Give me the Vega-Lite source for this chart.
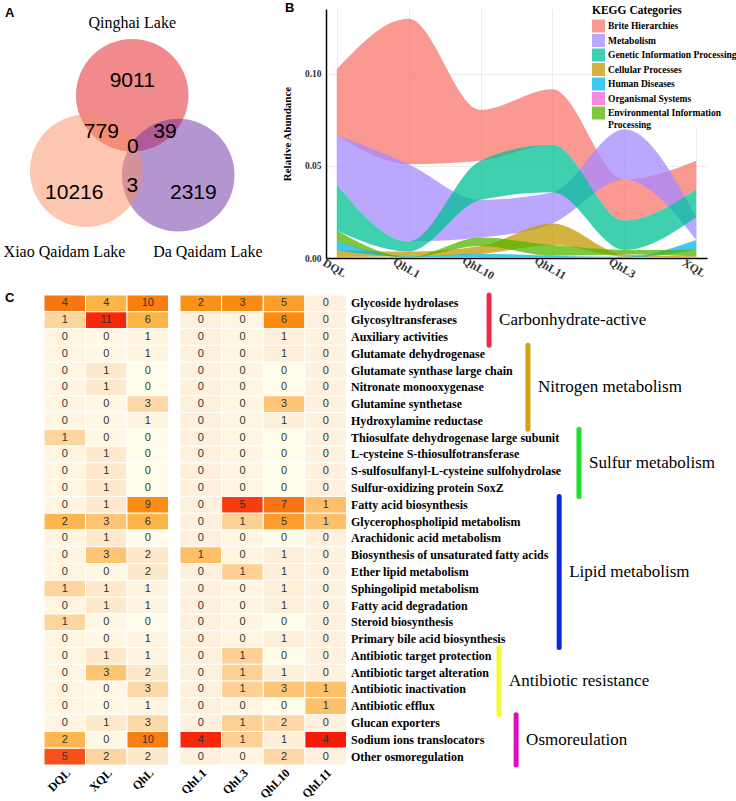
{
"$schema": "https://vega.github.io/schema/vega-lite/v6.json",
"background": "white",
"padding": {"left": 3, "top": 2, "right": 0, "bottom": 0},
"config": {"view": {"stroke": null}, "title": {"font": "Liberation Sans", "fontWeight": "bold", "fontSize": 13, "color": "black", "anchor": "start", "frame": "group", "offset": 0, "baseline": "top"}},
"datasets": {
"venn": [
{"set": "Qinghai Lake", "x": 0, "y": 0.82},
{"set": "Da Qaidam Lake", "x": 0.73, "y": -0.45},
{"set": "Xiao Qaidam Lake", "x": -0.73, "y": -0.38}
],
"vennSets": [
{"set": "Qinghai Lake", "x": 0, "y": 1.97},
{"set": "Xiao Qaidam Lake", "x": -1.075, "y": -1.67},
{"set": "Da Qaidam Lake", "x": 1.2, "y": -1.67}
],
"vennCounts": [
{"region": "Qinghai only", "count": 9011, "x": 0, "y": 1.04},
{"region": "Qinghai & Xiao", "count": 779, "x": -0.49, "y": 0.235},
{"region": "Qinghai & Da", "count": 39, "x": 0.52, "y": 0.235},
{"region": "All three", "count": 0, "x": 0.01, "y": -0.01},
{"region": "Xiao & Da", "count": 3, "x": 0, "y": -0.62},
{"region": "Xiao only", "count": 10216, "x": -0.92, "y": -0.74},
{"region": "Da only", "count": 2319, "x": 0.97, "y": -0.74}
],
"kegg": [
{"sample": "DQL", "cat": "Brite Hierarchies", "value": 0.0358},
{"sample": "DQL", "cat": "Metabolism", "value": 0.0269},
{"sample": "DQL", "cat": "Genetic Information Processing", "value": 0.025},
{"sample": "DQL", "cat": "Cellular Processes", "value": 0.0037},
{"sample": "DQL", "cat": "Human Diseases", "value": 0.0049},
{"sample": "DQL", "cat": "Organismal Systems", "value": 0.0005},
{"sample": "DQL", "cat": "Environmental Information Processing", "value": 0.0058},
{"sample": "QhL1", "cat": "Brite Hierarchies", "value": 0.079},
{"sample": "QhL1", "cat": "Metabolism", "value": 0.042},
{"sample": "QhL1", "cat": "Genetic Information Processing", "value": 0.0055},
{"sample": "QhL1", "cat": "Cellular Processes", "value": 0.0025},
{"sample": "QhL1", "cat": "Human Diseases", "value": 0.0005},
{"sample": "QhL1", "cat": "Organismal Systems", "value": 0.0002},
{"sample": "QhL1", "cat": "Environmental Information Processing", "value": 0.0003},
{"sample": "QhL10", "cat": "Brite Hierarchies", "value": 0.0276},
{"sample": "QhL10", "cat": "Metabolism", "value": 0.0205},
{"sample": "QhL10", "cat": "Genetic Information Processing", "value": 0.0213},
{"sample": "QhL10", "cat": "Cellular Processes", "value": 0.0042},
{"sample": "QhL10", "cat": "Human Diseases", "value": 0.002},
{"sample": "QhL10", "cat": "Organismal Systems", "value": 0.0003},
{"sample": "QhL10", "cat": "Environmental Information Processing", "value": 0.0046},
{"sample": "QhL11", "cat": "Brite Hierarchies", "value": 0.0302},
{"sample": "QhL11", "cat": "Metabolism", "value": 0.0169},
{"sample": "QhL11", "cat": "Genetic Information Processing", "value": 0.0258},
{"sample": "QhL11", "cat": "Cellular Processes", "value": 0.0118},
{"sample": "QhL11", "cat": "Human Diseases", "value": 0.001},
{"sample": "QhL11", "cat": "Organismal Systems", "value": 0.0002},
{"sample": "QhL11", "cat": "Environmental Information Processing", "value": 0.0058},
{"sample": "QhL3", "cat": "Brite Hierarchies", "value": 0.0222},
{"sample": "QhL3", "cat": "Metabolism", "value": 0.0273},
{"sample": "QhL3", "cat": "Genetic Information Processing", "value": 0.016},
{"sample": "QhL3", "cat": "Cellular Processes", "value": 0.0012},
{"sample": "QhL3", "cat": "Human Diseases", "value": 0.0005},
{"sample": "QhL3", "cat": "Organismal Systems", "value": 0.0002},
{"sample": "QhL3", "cat": "Environmental Information Processing", "value": 0.0025},
{"sample": "XQL", "cat": "Brite Hierarchies", "value": 0.0155},
{"sample": "XQL", "cat": "Metabolism", "value": 0.0124},
{"sample": "XQL", "cat": "Genetic Information Processing", "value": 0.0151},
{"sample": "XQL", "cat": "Cellular Processes", "value": 0.0006},
{"sample": "XQL", "cat": "Human Diseases", "value": 0.0053},
{"sample": "XQL", "cat": "Organismal Systems", "value": 0.0003},
{"sample": "XQL", "cat": "Environmental Information Processing", "value": 0.0036}
],
"cells": [
{"g": "Glycoside hydrolases", "s": "DQL", "n": 4, "z": 2.7},
{"g": "Glycoside hydrolases", "s": "XQL", "n": 4, "z": 1.22},
{"g": "Glycoside hydrolases", "s": "QhL", "n": 10, "z": 2.52},
{"g": "Glycoside hydrolases", "s": "QhL1", "n": 2, "z": 2.07},
{"g": "Glycoside hydrolases", "s": "QhL3", "n": 3, "z": 2.23},
{"g": "Glycoside hydrolases", "s": "QhL10", "n": 5, "z": 1.76},
{"g": "Glycoside hydrolases", "s": "QhL11", "n": 0, "z": -0.35},
{"g": "Glycosyltransferases", "s": "DQL", "n": 1, "z": 0.31},
{"g": "Glycosyltransferases", "s": "XQL", "n": 11, "z": 4.41},
{"g": "Glycosyltransferases", "s": "QhL", "n": 6, "z": 1.2},
{"g": "Glycosyltransferases", "s": "QhL1", "n": 0, "z": -0.3},
{"g": "Glycosyltransferases", "s": "QhL3", "n": 0, "z": -0.48},
{"g": "Glycosyltransferases", "s": "QhL10", "n": 6, "z": 2.26},
{"g": "Glycosyltransferases", "s": "QhL11", "n": 0, "z": -0.35},
{"g": "Auxiliary activities", "s": "DQL", "n": 0, "z": -0.48},
{"g": "Auxiliary activities", "s": "XQL", "n": 0, "z": -0.6},
{"g": "Auxiliary activities", "s": "QhL", "n": 1, "z": -0.45},
{"g": "Auxiliary activities", "s": "QhL1", "n": 0, "z": -0.3},
{"g": "Auxiliary activities", "s": "QhL3", "n": 0, "z": -0.48},
{"g": "Auxiliary activities", "s": "QhL10", "n": 1, "z": -0.27},
{"g": "Auxiliary activities", "s": "QhL11", "n": 0, "z": -0.35},
{"g": "Glutamate dehydrogenase", "s": "DQL", "n": 0, "z": -0.48},
{"g": "Glutamate dehydrogenase", "s": "XQL", "n": 0, "z": -0.6},
{"g": "Glutamate dehydrogenase", "s": "QhL", "n": 1, "z": -0.45},
{"g": "Glutamate dehydrogenase", "s": "QhL1", "n": 0, "z": -0.3},
{"g": "Glutamate dehydrogenase", "s": "QhL3", "n": 0, "z": -0.48},
{"g": "Glutamate dehydrogenase", "s": "QhL10", "n": 1, "z": -0.27},
{"g": "Glutamate dehydrogenase", "s": "QhL11", "n": 0, "z": -0.35},
{"g": "Glutamate synthase large chain", "s": "DQL", "n": 0, "z": -0.48},
{"g": "Glutamate synthase large chain", "s": "XQL", "n": 1, "z": -0.15},
{"g": "Glutamate synthase large chain", "s": "QhL", "n": 0, "z": -0.78},
{"g": "Glutamate synthase large chain", "s": "QhL1", "n": 0, "z": -0.3},
{"g": "Glutamate synthase large chain", "s": "QhL3", "n": 0, "z": -0.48},
{"g": "Glutamate synthase large chain", "s": "QhL10", "n": 0, "z": -0.78},
{"g": "Glutamate synthase large chain", "s": "QhL11", "n": 0, "z": -0.35},
{"g": "Nitronate monooxygenase", "s": "DQL", "n": 0, "z": -0.48},
{"g": "Nitronate monooxygenase", "s": "XQL", "n": 1, "z": -0.15},
{"g": "Nitronate monooxygenase", "s": "QhL", "n": 0, "z": -0.78},
{"g": "Nitronate monooxygenase", "s": "QhL1", "n": 0, "z": -0.3},
{"g": "Nitronate monooxygenase", "s": "QhL3", "n": 0, "z": -0.48},
{"g": "Nitronate monooxygenase", "s": "QhL10", "n": 0, "z": -0.78},
{"g": "Nitronate monooxygenase", "s": "QhL11", "n": 0, "z": -0.35},
{"g": "Glutamine synthetase", "s": "DQL", "n": 0, "z": -0.48},
{"g": "Glutamine synthetase", "s": "XQL", "n": 0, "z": -0.6},
{"g": "Glutamine synthetase", "s": "QhL", "n": 3, "z": 0.21},
{"g": "Glutamine synthetase", "s": "QhL1", "n": 0, "z": -0.3},
{"g": "Glutamine synthetase", "s": "QhL3", "n": 0, "z": -0.48},
{"g": "Glutamine synthetase", "s": "QhL10", "n": 3, "z": 0.74},
{"g": "Glutamine synthetase", "s": "QhL11", "n": 0, "z": -0.35},
{"g": "Hydroxylamine reductase", "s": "DQL", "n": 0, "z": -0.48},
{"g": "Hydroxylamine reductase", "s": "XQL", "n": 0, "z": -0.6},
{"g": "Hydroxylamine reductase", "s": "QhL", "n": 1, "z": -0.45},
{"g": "Hydroxylamine reductase", "s": "QhL1", "n": 0, "z": -0.3},
{"g": "Hydroxylamine reductase", "s": "QhL3", "n": 0, "z": -0.48},
{"g": "Hydroxylamine reductase", "s": "QhL10", "n": 1, "z": -0.27},
{"g": "Hydroxylamine reductase", "s": "QhL11", "n": 0, "z": -0.35},
{"g": "Thiosulfate dehydrogenase large subunit", "s": "DQL", "n": 1, "z": 0.31},
{"g": "Thiosulfate dehydrogenase large subunit", "s": "XQL", "n": 0, "z": -0.6},
{"g": "Thiosulfate dehydrogenase large subunit", "s": "QhL", "n": 0, "z": -0.78},
{"g": "Thiosulfate dehydrogenase large subunit", "s": "QhL1", "n": 0, "z": -0.3},
{"g": "Thiosulfate dehydrogenase large subunit", "s": "QhL3", "n": 0, "z": -0.48},
{"g": "Thiosulfate dehydrogenase large subunit", "s": "QhL10", "n": 0, "z": -0.78},
{"g": "Thiosulfate dehydrogenase large subunit", "s": "QhL11", "n": 0, "z": -0.35},
{"g": "L-cysteine S-thiosulfotransferase", "s": "DQL", "n": 0, "z": -0.48},
{"g": "L-cysteine S-thiosulfotransferase", "s": "XQL", "n": 1, "z": -0.15},
{"g": "L-cysteine S-thiosulfotransferase", "s": "QhL", "n": 0, "z": -0.78},
{"g": "L-cysteine S-thiosulfotransferase", "s": "QhL1", "n": 0, "z": -0.3},
{"g": "L-cysteine S-thiosulfotransferase", "s": "QhL3", "n": 0, "z": -0.48},
{"g": "L-cysteine S-thiosulfotransferase", "s": "QhL10", "n": 0, "z": -0.78},
{"g": "L-cysteine S-thiosulfotransferase", "s": "QhL11", "n": 0, "z": -0.35},
{"g": "S-sulfosulfanyl-L-cysteine sulfohydrolase", "s": "DQL", "n": 0, "z": -0.48},
{"g": "S-sulfosulfanyl-L-cysteine sulfohydrolase", "s": "XQL", "n": 1, "z": -0.15},
{"g": "S-sulfosulfanyl-L-cysteine sulfohydrolase", "s": "QhL", "n": 0, "z": -0.78},
{"g": "S-sulfosulfanyl-L-cysteine sulfohydrolase", "s": "QhL1", "n": 0, "z": -0.3},
{"g": "S-sulfosulfanyl-L-cysteine sulfohydrolase", "s": "QhL3", "n": 0, "z": -0.48},
{"g": "S-sulfosulfanyl-L-cysteine sulfohydrolase", "s": "QhL10", "n": 0, "z": -0.78},
{"g": "S-sulfosulfanyl-L-cysteine sulfohydrolase", "s": "QhL11", "n": 0, "z": -0.35},
{"g": "Sulfur-oxidizing protein SoxZ", "s": "DQL", "n": 0, "z": -0.48},
{"g": "Sulfur-oxidizing protein SoxZ", "s": "XQL", "n": 1, "z": -0.15},
{"g": "Sulfur-oxidizing protein SoxZ", "s": "QhL", "n": 0, "z": -0.78},
{"g": "Sulfur-oxidizing protein SoxZ", "s": "QhL1", "n": 0, "z": -0.3},
{"g": "Sulfur-oxidizing protein SoxZ", "s": "QhL3", "n": 0, "z": -0.48},
{"g": "Sulfur-oxidizing protein SoxZ", "s": "QhL10", "n": 0, "z": -0.78},
{"g": "Sulfur-oxidizing protein SoxZ", "s": "QhL11", "n": 0, "z": -0.35},
{"g": "Fatty acid biosynthesis", "s": "DQL", "n": 0, "z": -0.48},
{"g": "Fatty acid biosynthesis", "s": "XQL", "n": 1, "z": -0.15},
{"g": "Fatty acid biosynthesis", "s": "QhL", "n": 9, "z": 2.19},
{"g": "Fatty acid biosynthesis", "s": "QhL1", "n": 0, "z": -0.3},
{"g": "Fatty acid biosynthesis", "s": "QhL3", "n": 5, "z": 4.04},
{"g": "Fatty acid biosynthesis", "s": "QhL10", "n": 7, "z": 2.77},
{"g": "Fatty acid biosynthesis", "s": "QhL11", "n": 1, "z": 0.88},
{"g": "Glycerophospholipid metabolism", "s": "DQL", "n": 2, "z": 1.11},
{"g": "Glycerophospholipid metabolism", "s": "XQL", "n": 3, "z": 0.77},
{"g": "Glycerophospholipid metabolism", "s": "QhL", "n": 6, "z": 1.2},
{"g": "Glycerophospholipid metabolism", "s": "QhL1", "n": 0, "z": -0.3},
{"g": "Glycerophospholipid metabolism", "s": "QhL3", "n": 1, "z": 0.42},
{"g": "Glycerophospholipid metabolism", "s": "QhL10", "n": 5, "z": 1.76},
{"g": "Glycerophospholipid metabolism", "s": "QhL11", "n": 1, "z": 0.88},
{"g": "Arachidonic acid metabolism", "s": "DQL", "n": 0, "z": -0.48},
{"g": "Arachidonic acid metabolism", "s": "XQL", "n": 1, "z": -0.15},
{"g": "Arachidonic acid metabolism", "s": "QhL", "n": 0, "z": -0.78},
{"g": "Arachidonic acid metabolism", "s": "QhL1", "n": 0, "z": -0.3},
{"g": "Arachidonic acid metabolism", "s": "QhL3", "n": 0, "z": -0.48},
{"g": "Arachidonic acid metabolism", "s": "QhL10", "n": 0, "z": -0.78},
{"g": "Arachidonic acid metabolism", "s": "QhL11", "n": 0, "z": -0.35},
{"g": "Biosynthesis of unsaturated fatty acids", "s": "DQL", "n": 0, "z": -0.48},
{"g": "Biosynthesis of unsaturated fatty acids", "s": "XQL", "n": 3, "z": 0.77},
{"g": "Biosynthesis of unsaturated fatty acids", "s": "QhL", "n": 2, "z": -0.12},
{"g": "Biosynthesis of unsaturated fatty acids", "s": "QhL1", "n": 1, "z": 0.89},
{"g": "Biosynthesis of unsaturated fatty acids", "s": "QhL3", "n": 0, "z": -0.48},
{"g": "Biosynthesis of unsaturated fatty acids", "s": "QhL10", "n": 1, "z": -0.27},
{"g": "Biosynthesis of unsaturated fatty acids", "s": "QhL11", "n": 0, "z": -0.35},
{"g": "Ether lipid metabolism", "s": "DQL", "n": 0, "z": -0.48},
{"g": "Ether lipid metabolism", "s": "XQL", "n": 0, "z": -0.6},
{"g": "Ether lipid metabolism", "s": "QhL", "n": 2, "z": -0.12},
{"g": "Ether lipid metabolism", "s": "QhL1", "n": 0, "z": -0.3},
{"g": "Ether lipid metabolism", "s": "QhL3", "n": 1, "z": 0.42},
{"g": "Ether lipid metabolism", "s": "QhL10", "n": 1, "z": -0.27},
{"g": "Ether lipid metabolism", "s": "QhL11", "n": 0, "z": -0.35},
{"g": "Sphingolipid metabolism", "s": "DQL", "n": 1, "z": 0.31},
{"g": "Sphingolipid metabolism", "s": "XQL", "n": 1, "z": -0.15},
{"g": "Sphingolipid metabolism", "s": "QhL", "n": 1, "z": -0.45},
{"g": "Sphingolipid metabolism", "s": "QhL1", "n": 0, "z": -0.3},
{"g": "Sphingolipid metabolism", "s": "QhL3", "n": 0, "z": -0.48},
{"g": "Sphingolipid metabolism", "s": "QhL10", "n": 1, "z": -0.27},
{"g": "Sphingolipid metabolism", "s": "QhL11", "n": 0, "z": -0.35},
{"g": "Fatty acid degradation", "s": "DQL", "n": 0, "z": -0.48},
{"g": "Fatty acid degradation", "s": "XQL", "n": 1, "z": -0.15},
{"g": "Fatty acid degradation", "s": "QhL", "n": 1, "z": -0.45},
{"g": "Fatty acid degradation", "s": "QhL1", "n": 0, "z": -0.3},
{"g": "Fatty acid degradation", "s": "QhL3", "n": 0, "z": -0.48},
{"g": "Fatty acid degradation", "s": "QhL10", "n": 1, "z": -0.27},
{"g": "Fatty acid degradation", "s": "QhL11", "n": 0, "z": -0.35},
{"g": "Steroid biosynthesis", "s": "DQL", "n": 1, "z": 0.31},
{"g": "Steroid biosynthesis", "s": "XQL", "n": 0, "z": -0.6},
{"g": "Steroid biosynthesis", "s": "QhL", "n": 0, "z": -0.78},
{"g": "Steroid biosynthesis", "s": "QhL1", "n": 0, "z": -0.3},
{"g": "Steroid biosynthesis", "s": "QhL3", "n": 0, "z": -0.48},
{"g": "Steroid biosynthesis", "s": "QhL10", "n": 0, "z": -0.78},
{"g": "Steroid biosynthesis", "s": "QhL11", "n": 0, "z": -0.35},
{"g": "Primary bile acid biosynthesis", "s": "DQL", "n": 0, "z": -0.48},
{"g": "Primary bile acid biosynthesis", "s": "XQL", "n": 0, "z": -0.6},
{"g": "Primary bile acid biosynthesis", "s": "QhL", "n": 1, "z": -0.45},
{"g": "Primary bile acid biosynthesis", "s": "QhL1", "n": 0, "z": -0.3},
{"g": "Primary bile acid biosynthesis", "s": "QhL3", "n": 0, "z": -0.48},
{"g": "Primary bile acid biosynthesis", "s": "QhL10", "n": 1, "z": -0.27},
{"g": "Primary bile acid biosynthesis", "s": "QhL11", "n": 0, "z": -0.35},
{"g": "Antibiotic target protection", "s": "DQL", "n": 0, "z": -0.48},
{"g": "Antibiotic target protection", "s": "XQL", "n": 1, "z": -0.15},
{"g": "Antibiotic target protection", "s": "QhL", "n": 1, "z": -0.45},
{"g": "Antibiotic target protection", "s": "QhL1", "n": 0, "z": -0.3},
{"g": "Antibiotic target protection", "s": "QhL3", "n": 1, "z": 0.42},
{"g": "Antibiotic target protection", "s": "QhL10", "n": 0, "z": -0.78},
{"g": "Antibiotic target protection", "s": "QhL11", "n": 0, "z": -0.35},
{"g": "Antibiotic target alteration", "s": "DQL", "n": 0, "z": -0.48},
{"g": "Antibiotic target alteration", "s": "XQL", "n": 3, "z": 0.77},
{"g": "Antibiotic target alteration", "s": "QhL", "n": 2, "z": -0.12},
{"g": "Antibiotic target alteration", "s": "QhL1", "n": 0, "z": -0.3},
{"g": "Antibiotic target alteration", "s": "QhL3", "n": 1, "z": 0.42},
{"g": "Antibiotic target alteration", "s": "QhL10", "n": 1, "z": -0.27},
{"g": "Antibiotic target alteration", "s": "QhL11", "n": 0, "z": -0.35},
{"g": "Antibiotic inactivation", "s": "DQL", "n": 0, "z": -0.48},
{"g": "Antibiotic inactivation", "s": "XQL", "n": 0, "z": -0.6},
{"g": "Antibiotic inactivation", "s": "QhL", "n": 3, "z": 0.21},
{"g": "Antibiotic inactivation", "s": "QhL1", "n": 0, "z": -0.3},
{"g": "Antibiotic inactivation", "s": "QhL3", "n": 1, "z": 0.42},
{"g": "Antibiotic inactivation", "s": "QhL10", "n": 3, "z": 0.74},
{"g": "Antibiotic inactivation", "s": "QhL11", "n": 1, "z": 0.88},
{"g": "Antibiotic efflux", "s": "DQL", "n": 0, "z": -0.48},
{"g": "Antibiotic efflux", "s": "XQL", "n": 0, "z": -0.6},
{"g": "Antibiotic efflux", "s": "QhL", "n": 1, "z": -0.45},
{"g": "Antibiotic efflux", "s": "QhL1", "n": 0, "z": -0.3},
{"g": "Antibiotic efflux", "s": "QhL3", "n": 0, "z": -0.48},
{"g": "Antibiotic efflux", "s": "QhL10", "n": 0, "z": -0.78},
{"g": "Antibiotic efflux", "s": "QhL11", "n": 1, "z": 0.88},
{"g": "Glucan exporters", "s": "DQL", "n": 0, "z": -0.48},
{"g": "Glucan exporters", "s": "XQL", "n": 1, "z": -0.15},
{"g": "Glucan exporters", "s": "QhL", "n": 3, "z": 0.21},
{"g": "Glucan exporters", "s": "QhL1", "n": 0, "z": -0.3},
{"g": "Glucan exporters", "s": "QhL3", "n": 1, "z": 0.42},
{"g": "Glucan exporters", "s": "QhL10", "n": 2, "z": 0.24},
{"g": "Glucan exporters", "s": "QhL11", "n": 0, "z": -0.35},
{"g": "Sodium ions translocators", "s": "DQL", "n": 2, "z": 1.11},
{"g": "Sodium ions translocators", "s": "XQL", "n": 0, "z": -0.6},
{"g": "Sodium ions translocators", "s": "QhL", "n": 10, "z": 2.52},
{"g": "Sodium ions translocators", "s": "QhL1", "n": 4, "z": 4.44},
{"g": "Sodium ions translocators", "s": "QhL3", "n": 1, "z": 0.42},
{"g": "Sodium ions translocators", "s": "QhL10", "n": 1, "z": -0.27},
{"g": "Sodium ions translocators", "s": "QhL11", "n": 4, "z": 4.59},
{"g": "Other osmoregulation", "s": "DQL", "n": 5, "z": 3.49},
{"g": "Other osmoregulation", "s": "XQL", "n": 2, "z": 0.31},
{"g": "Other osmoregulation", "s": "QhL", "n": 2, "z": -0.12},
{"g": "Other osmoregulation", "s": "QhL1", "n": 0, "z": -0.3},
{"g": "Other osmoregulation", "s": "QhL3", "n": 0, "z": -0.48},
{"g": "Other osmoregulation", "s": "QhL10", "n": 2, "z": 0.24},
{"g": "Other osmoregulation", "s": "QhL11", "n": 0, "z": -0.35}
],
"groups": [
{"cat": "Carbonhydrate-active", "lo": 0, "hi": 3, "bx": 34.4},
{"cat": "Nitrogen metabolism", "lo": 3, "hi": 8, "bx": 44.6},
{"cat": "Sulfur metabolism", "lo": 8, "hi": 12, "bx": 58.0},
{"cat": "Lipid metabolism", "lo": 12, "hi": 21, "bx": 52.8},
{"cat": "Antibiotic resistance", "lo": 21, "hi": 25, "bx": 37.0},
{"cat": "Osmoreulation", "lo": 25, "hi": 28, "bx": 41.5}
]
},
"vconcat": [
{
"hconcat": [
{
"width": 213, "height": 253,
"title": {"text": "A", "dx": -39, "dy": 15},
"encoding": {
"x": {"field": "x", "type": "quantitative", "scale": {"domain": [-1.4, 1.98], "nice": false, "zero": false}, "axis": null},
"y": {"field": "y", "type": "quantitative", "scale": {"domain": [-1.83, 2.19], "nice": false, "zero": false}, "axis": null}
},
"layer": [
{"data": {"name": "venn"}, "mark": {"type": "point", "shape": "circle", "filled": true, "size": 12670, "opacity": 0.5, "strokeWidth": 0},
"encoding": {"color": {"field": "set", "type": "nominal", "scale": {"domain": ["Qinghai Lake", "Da Qaidam Lake", "Xiao Qaidam Lake"], "range": ["#E11519", "#6B2BA1", "#F98D61"]}, "legend": null}}},
{"data": {"name": "vennSets"}, "mark": {"type": "text", "font": "Liberation Serif", "fontSize": 16, "color": "black", "baseline": "middle"},
"encoding": {"text": {"field": "set", "type": "nominal"}}},
{"data": {"name": "vennCounts"}, "mark": {"type": "text", "font": "Liberation Sans", "fontSize": 21, "color": "black", "baseline": "middle"},
"encoding": {"text": {"field": "count", "type": "quantitative", "format": "d"}}}
]
},
{
"width": 381, "height": 249,
"title": {"text": "B", "dx": -41, "dy": 14},
"data": {"name": "kegg"},
"transform": [{"stack": "value", "groupby": ["sample"], "sort": [{"field": "value", "order": "ascending"}], "as": ["v0", "v1"]}],
"mark": {"type": "area", "interpolate": "monotone", "opacity": 0.75},
"encoding": {
"x": {"field": "sample", "type": "ordinal", "sort": ["DQL", "QhL1", "QhL10", "QhL11", "QhL3", "XQL"], "scale": {"type": "point", "padding": 0.15},
"axis": {"title": null, "labelAngle": 30, "labelAlign": "center", "labelBaseline": "top", "labelFont": "Liberation Serif", "labelFontWeight": "bold", "labelFontSize": 11.5, "labelColor": "#333333", "ticks": false, "labelPadding": 5, "domainColor": "black", "domainWidth": 1.5, "grid": true, "gridColor": "#EBEBEB"}},
"y": {"field": "v1", "type": "quantitative", "scale": {"domain": [0, 0.1353], "nice": false},
"axis": {"title": "Relative Abundance", "titleFont": "Liberation Serif", "titleFontWeight": "bold", "titleFontSize": 11, "titleColor": "black", "titlePadding": 12, "values": [0, 0.05, 0.1], "format": ".2f", "labelFont": "Liberation Serif", "labelFontWeight": "bold", "labelFontSize": 9.5, "labelColor": "#333333", "ticks": false, "labelPadding": 5, "domainColor": "black", "domainWidth": 1.5, "gridColor": "#EBEBEB"}},
"y2": {"field": "v0"},
"color": {"field": "cat", "type": "nominal",
"scale": {"domain": ["Brite Hierarchies", "Metabolism", "Genetic Information Processing", "Cellular Processes", "Human Diseases", "Organismal Systems", "Environmental Information Processing"], "range": ["#F8766D", "#A58AFF", "#00C094", "#C49A00", "#00B6EB", "#FB61D7", "#53B400"]},
"legend": {"title": "KEGG Categories", "orient": "none", "legendX": 266, "legendY": -4, "fillColor": "white", "padding": 0, "titleFont": "Liberation Serif", "titleFontWeight": "bold", "titleFontSize": 11.5, "titleColor": "black", "titlePadding": 3, "labelFont": "Liberation Serif", "labelFontWeight": "bold", "labelFontSize": 9.5, "labelColor": "black", "labelOffset": 3, "labelLimit": 0, "symbolType": "square", "symbolSize": 169, "symbolStrokeWidth": 0, "rowPadding": 1.5,
"labelExpr": "datum.label == 'Environmental Information Processing' ? ['Environmental Information', 'Processing'] : datum.label"}}
}
}
],
"spacing": 69,
"bounds": "flush",
"resolve": {"scale": {"x": "independent", "y": "independent", "color": "independent"}}
},
{
"hconcat": [
{
"width": 124.5, "height": 470,
"title": {"text": "C", "dx": -39, "dy": 14},
"data": {"name": "cells"},
"transform": [{"filter": {"field": "s", "oneOf": ["DQL", "XQL", "QhL"]}}],
"encoding": {
"x": {"field": "s", "type": "nominal", "sort": ["DQL", "XQL", "QhL"], "scale": {"paddingInner": 0, "paddingOuter": 0},
"axis": {"title": null, "labelAngle": -45, "ticks": false, "domain": false, "labelFont": "Liberation Serif", "labelFontWeight": "bold", "labelFontSize": 12, "labelColor": "black", "labelPadding": 2}},
"y": {"field": "g", "type": "nominal", "sort": null, "scale": {"paddingInner": 0, "paddingOuter": 0}, "axis": null}
},
"layer": [
{"mark": {"type": "rect", "stroke": "white", "strokeWidth": 1},
"encoding": {"color": {"field": "z", "type": "quantitative", "scale": {"domain": [-0.78, -0.3, 0.3, 1.2, 2.2, 3.5, 4.6], "range": ["#FFFFFF", "#FEF0DC", "#FDD5A0", "#FDB447", "#FA8C12", "#F5501A", "#F61A08"]}, "legend": null}}},
{"mark": {"type": "text", "font": "Liberation Sans", "fontSize": 11, "color": "#333333"},
"encoding": {"text": {"field": "n", "type": "quantitative"}}}
]
},
{
"width": 166.5, "height": 470,
"data": {"name": "cells"},
"transform": [{"filter": {"field": "s", "oneOf": ["QhL1", "QhL3", "QhL10", "QhL11"]}}],
"encoding": {
"x": {"field": "s", "type": "nominal", "sort": ["QhL1", "QhL3", "QhL10", "QhL11"], "scale": {"paddingInner": 0, "paddingOuter": 0},
"axis": {"title": null, "labelAngle": -45, "ticks": false, "domain": false, "labelFont": "Liberation Serif", "labelFontWeight": "bold", "labelFontSize": 12, "labelColor": "black", "labelPadding": 2}},
"y": {"field": "g", "type": "nominal", "sort": null, "scale": {"paddingInner": 0, "paddingOuter": 0},
"axis": {"orient": "right", "title": null, "ticks": false, "domain": false, "labelFont": "Liberation Serif", "labelFontWeight": "bold", "labelFontSize": 12, "labelColor": "black", "labelPadding": 4, "labelLimit": 0}}
},
"layer": [
{"mark": {"type": "rect", "stroke": "white", "strokeWidth": 1},
"encoding": {"color": {"field": "z", "type": "quantitative", "scale": {"domain": [-0.78, -0.3, 0.3, 1.2, 2.2, 3.5, 4.6], "range": ["#FFFFFF", "#FEF0DC", "#FDD5A0", "#FDB447", "#FA8C12", "#F5501A", "#F61A08"]}, "legend": null}}},
{"mark": {"type": "text", "font": "Liberation Sans", "fontSize": 11, "color": "#333333"},
"encoding": {"text": {"field": "n", "type": "quantitative"}}}
]
},
{
"width": 381, "height": 470,
"data": {"name": "groups"},
"encoding": {
"x": {"field": "bx", "type": "quantitative", "scale": {"domain": [0, 100], "nice": false, "zero": false}, "axis": null}
},
"layer": [
{"mark": {"type": "rule", "strokeWidth": 5, "strokeCap": "round"},
"encoding": {
"y": {"field": "lo", "type": "quantitative", "scale": {"domain": [0, 28], "reverse": true, "nice": false, "zero": false}, "axis": null},
"y2": {"field": "hi"},
"color": {"field": "cat", "type": "nominal", "scale": {"domain": ["Carbonhydrate-active", "Nitrogen metabolism", "Sulfur metabolism", "Lipid metabolism", "Antibiotic resistance", "Osmoreulation"], "range": ["#EE2A4B", "#D4A20C", "#1EE02A", "#0B2BD6", "#F8F83A", "#DD11BB"]}, "legend": null}
}},
{"transform": [{"fold": ["lo", "hi"], "as": ["k", "edge"]}, {"aggregate": [{"op": "mean", "field": "edge", "as": "mid"}], "groupby": ["cat", "bx"]}],
"mark": {"type": "text", "align": "left", "baseline": "middle", "dx": 10, "font": "Liberation Serif", "fontSize": 17, "color": "black"},
"encoding": {
"y": {"field": "mid", "type": "quantitative", "axis": null},
"text": {"field": "cat", "type": "nominal"}
}}
]
}
],
"spacing": 11,
"bounds": "flush",
"resolve": {"scale": {"x": "independent", "y": "independent", "color": "independent"}}
}
],
"spacing": 9,
"resolve": {"scale": {"x": "independent", "y": "independent", "color": "independent"}}
}
